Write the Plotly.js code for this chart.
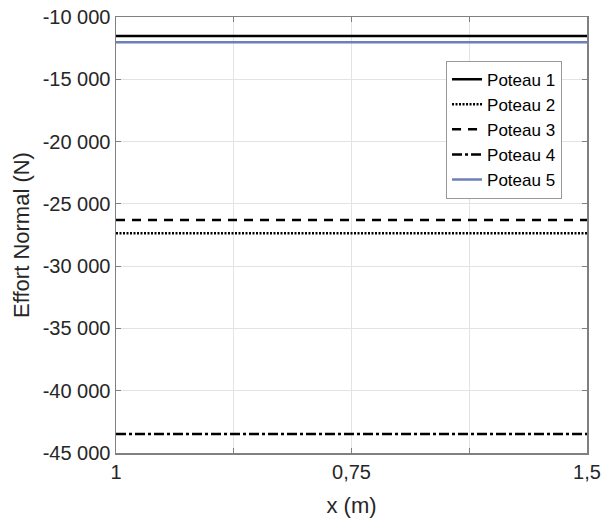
<!DOCTYPE html>
<html>
<head>
<meta charset="utf-8">
<script src="https://cdn.plot.ly/plotly-3.0.1.min.js"></script>
<style>html,body{margin:0;padding:0;background:#fff;}#chart{width:612px;height:520px;}</style>
</head>
<body>
<div id="chart"></div>
<script>
// Data
const xValues = [0, 1.5];
const seriesNames = ["Poteau 1", "Poteau 2", "Poteau 3", "Poteau 4", "Poteau 5"];
const poteau1 = [-11530, -11530];
const poteau2 = [-27360, -27360];
const poteau3 = [-26290, -26290];
const poteau4 = [-43470, -43470];
const poteau5 = [-12030, -12030];
const xTickVals = [0, 0.375, 0.75, 1.125, 1.5];
const xTickText = ["1", "", "0,75", "", "1,5"];
const yTickVals = [-45000, -40000, -35000, -30000, -25000, -20000, -15000, -10000];
const yTickText = ["-45 000", "-40 000", "-35 000", "-30 000", "-25 000", "-20 000", "-15 000", "-10 000"];

const seriesValues = [poteau1, poteau2, poteau3, poteau4, poteau5];
const styles = [
  {color: "#000000", width: 2.5, dash: "solid"},
  {color: "#000000", width: 2.5, dash: "2px,1.5px"},
  {color: "#000000", width: 2.5, dash: "9px,7px"},
  {color: "#000000", width: 2.5, dash: "10px,3px,3px,3px"},
  {color: "#6b80b8", width: 2.5, dash: "solid"}
];

const traces = seriesNames.map((n, i) => ({
  x: xValues, y: seriesValues[i], name: n, type: "scatter", mode: "lines",
  line: styles[i]
}));

const font = {family: "Liberation Sans, Arial, sans-serif", color: "#262626"};
const axisCommon = {
  showline: true, linecolor: "#808080", linewidth: 1.5, mirror: "ticks",
  ticks: "inside", ticklen: 5, tickcolor: "#808080", tickwidth: 1,
  showgrid: true, gridcolor: "#e3e3e3", gridwidth: 1, zeroline: false,
  tickfont: Object.assign({}, font, {size: 20})
};

const layout = {
  width: 612, height: 520,
  margin: {l: 116, r: 25, t: 17, b: 67},
  paper_bgcolor: "#fff", plot_bgcolor: "#fff",
  font: font,
  showlegend: true,
  xaxis: Object.assign({}, axisCommon, {
    range: [0, 1.5], tickmode: "array", tickvals: xTickVals, ticktext: xTickText,
    title: {text: "x (m)", font: Object.assign({}, font, {size: 22}), standoff: 16}
  }),
  yaxis: Object.assign({}, axisCommon, {
    range: [-45000, -10000], tickmode: "array", tickvals: yTickVals, ticktext: yTickText,
    title: {text: "Effort Normal (N)", font: Object.assign({}, font, {size: 22}), standoff: 7}
  }),
  legend: {
    x: 0.947, xanchor: "right", y: 0.9, yanchor: "top",
    bgcolor: "#fff", bordercolor: "#999", borderwidth: 1,
    font: Object.assign({}, font, {size: 17, color: "#000"}),
    tracegroupgap: 0
  }
};

Plotly.newPlot("chart", traces, layout, {displayModeBar: false, staticPlot: true});
</script>
</body>
</html>
